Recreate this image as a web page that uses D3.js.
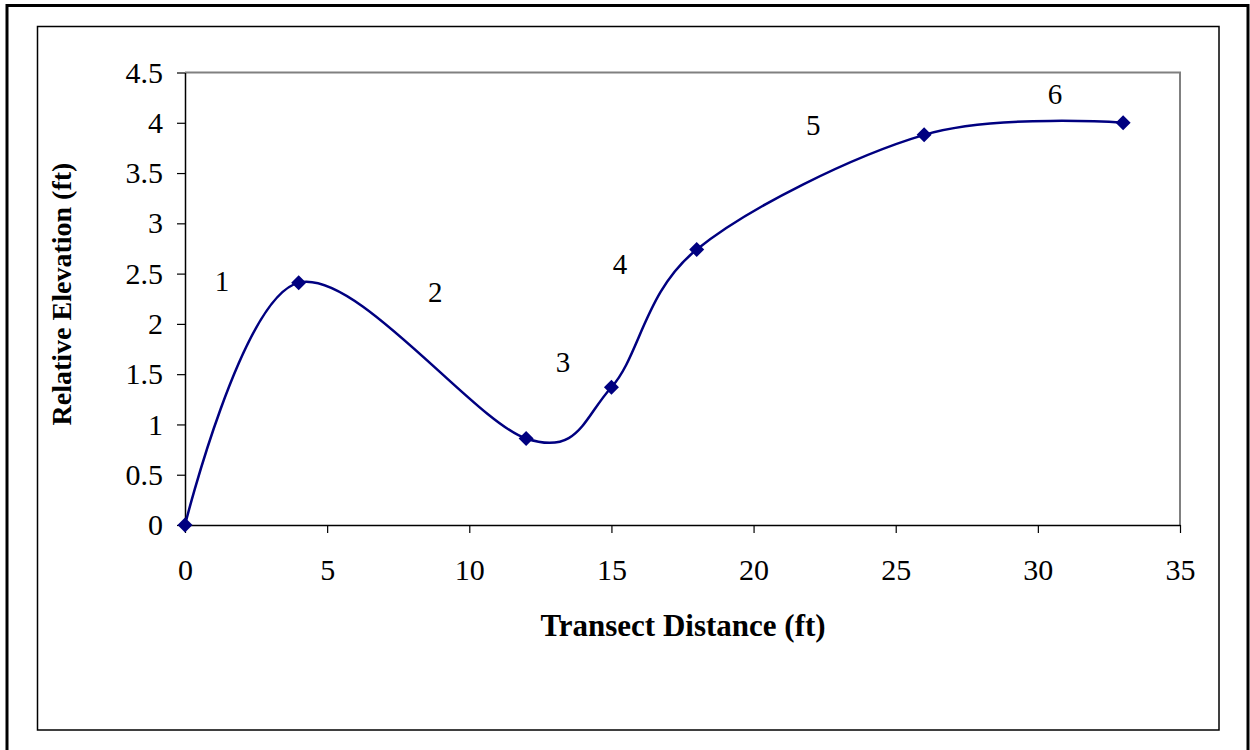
<!DOCTYPE html>
<html>
<head>
<meta charset="utf-8">
<script src="https://cdn.jsdelivr.net/npm/d3@7"></script>
<style>
  html, body { margin: 0; padding: 0; background: #fff; }
  svg { display: block; }
  text { font-family: "Liberation Serif", "Times New Roman", serif; fill: #000; }
</style>
</head>
<body>
<svg id="chart" width="1250" height="750"></svg>
<script>
// Data
const distance = [0, 4, 12, 15, 18, 26, 33];
const elevation = [0, 2.41, 0.86, 1.37, 2.74, 3.88, 4.0];
const segmentLabels = ["1", "2", "3", "4", "5", "6"];
const segmentLabelX = [1.3, 8.8, 13.3, 15.3, 22.1, 30.6];
const segmentLabelY = [2.33, 2.22, 1.52, 2.5, 3.88, 4.19];
const xTicks = [0, 5, 10, 15, 20, 25, 30, 35];
const yTicks = [0, 0.5, 1, 1.5, 2, 2.5, 3, 3.5, 4, 4.5];
const xTitle = "Transect Distance (ft)";
const yTitle = "Relative Elevation (ft)";

const svg = d3.select("#chart");

// Outer frame
svg.append("rect").attr("x", 7).attr("y", 5.5).attr("width", 1241).attr("height", 760)
  .attr("fill", "none").attr("stroke", "#000").attr("stroke-width", 3);
// Chart area frame
svg.append("rect").attr("x", 37.5).attr("y", 26.5).attr("width", 1181.5).attr("height", 703.5)
  .attr("fill", "none").attr("stroke", "#000").attr("stroke-width", 1.5);

const plot = { left: 185, top: 72.5, right: 1180, bottom: 525 };
const x = d3.scaleLinear().domain([0, 35]).range([plot.left, plot.right]);
const y = d3.scaleLinear().domain([0, 4.5]).range([plot.bottom, plot.top]);

// Plot area border (gray top and right)
svg.append("path")
  .attr("d", `M${plot.left},${plot.top}H${plot.right}V${plot.bottom}`)
  .attr("fill", "none").attr("stroke", "#808080").attr("stroke-width", 2);

// Axes
const xAxis = d3.axisBottom(x).tickValues(xTicks).tickSize(8).tickSizeOuter(0).tickPadding(26)
  .tickFormat(d3.format("d"));
const yAxis = d3.axisLeft(y).tickValues(yTicks).tickSize(8).tickSizeOuter(0).tickPadding(14)
  .tickFormat(d => String(d));

const gx = svg.append("g").attr("transform", `translate(0,${plot.bottom})`).call(xAxis);
const gy = svg.append("g").attr("transform", `translate(${plot.left},0)`).call(yAxis);
[gx, gy].forEach(g => {
  g.select(".domain").attr("stroke", "#000").attr("stroke-width", 1.5);
  g.selectAll(".tick line").attr("stroke", "#000").attr("stroke-width", 1.2);
  g.selectAll(".tick text").attr("font-size", 30)
    .attr("font-family", "'Liberation Serif', 'Times New Roman', serif").attr("fill", "#000");
});

// Axis titles
svg.append("text").attr("x", 683).attr("y", 636).attr("text-anchor", "middle")
  .attr("font-size", 31).attr("font-weight", "bold").text(xTitle);
svg.append("text").attr("transform", `translate(71,${294}) rotate(-90)`).attr("text-anchor", "middle")
  .attr("font-size", 28).attr("font-weight", "bold").text(yTitle);

// Line
const pts = distance.map((d, i) => [d, elevation[i]]);
const line = d3.line().x(d => x(d[0])).y(d => y(d[1])).curve(d3.curveCardinal.tension(0));
svg.append("path").datum(pts).attr("d", line)
  .attr("fill", "none").attr("stroke", "#000080").attr("stroke-width", 2.5);

// Markers
svg.selectAll(".marker").data(pts).enter().append("path")
  .attr("class", "marker")
  .attr("transform", d => `translate(${x(d[0])},${y(d[1])})`)
  .attr("d", "M0,-7.5L7.5,0L0,7.5L-7.5,0Z")
  .attr("fill", "#000080");

// Segment labels
svg.selectAll(".seg").data(segmentLabels).enter().append("text")
  .attr("class", "seg")
  .attr("x", (d, i) => x(segmentLabelX[i]))
  .attr("y", (d, i) => y(segmentLabelY[i]))
  .attr("text-anchor", "middle")
  .attr("font-size", 29)
  .text(d => d);
</script>
</body>
</html>
